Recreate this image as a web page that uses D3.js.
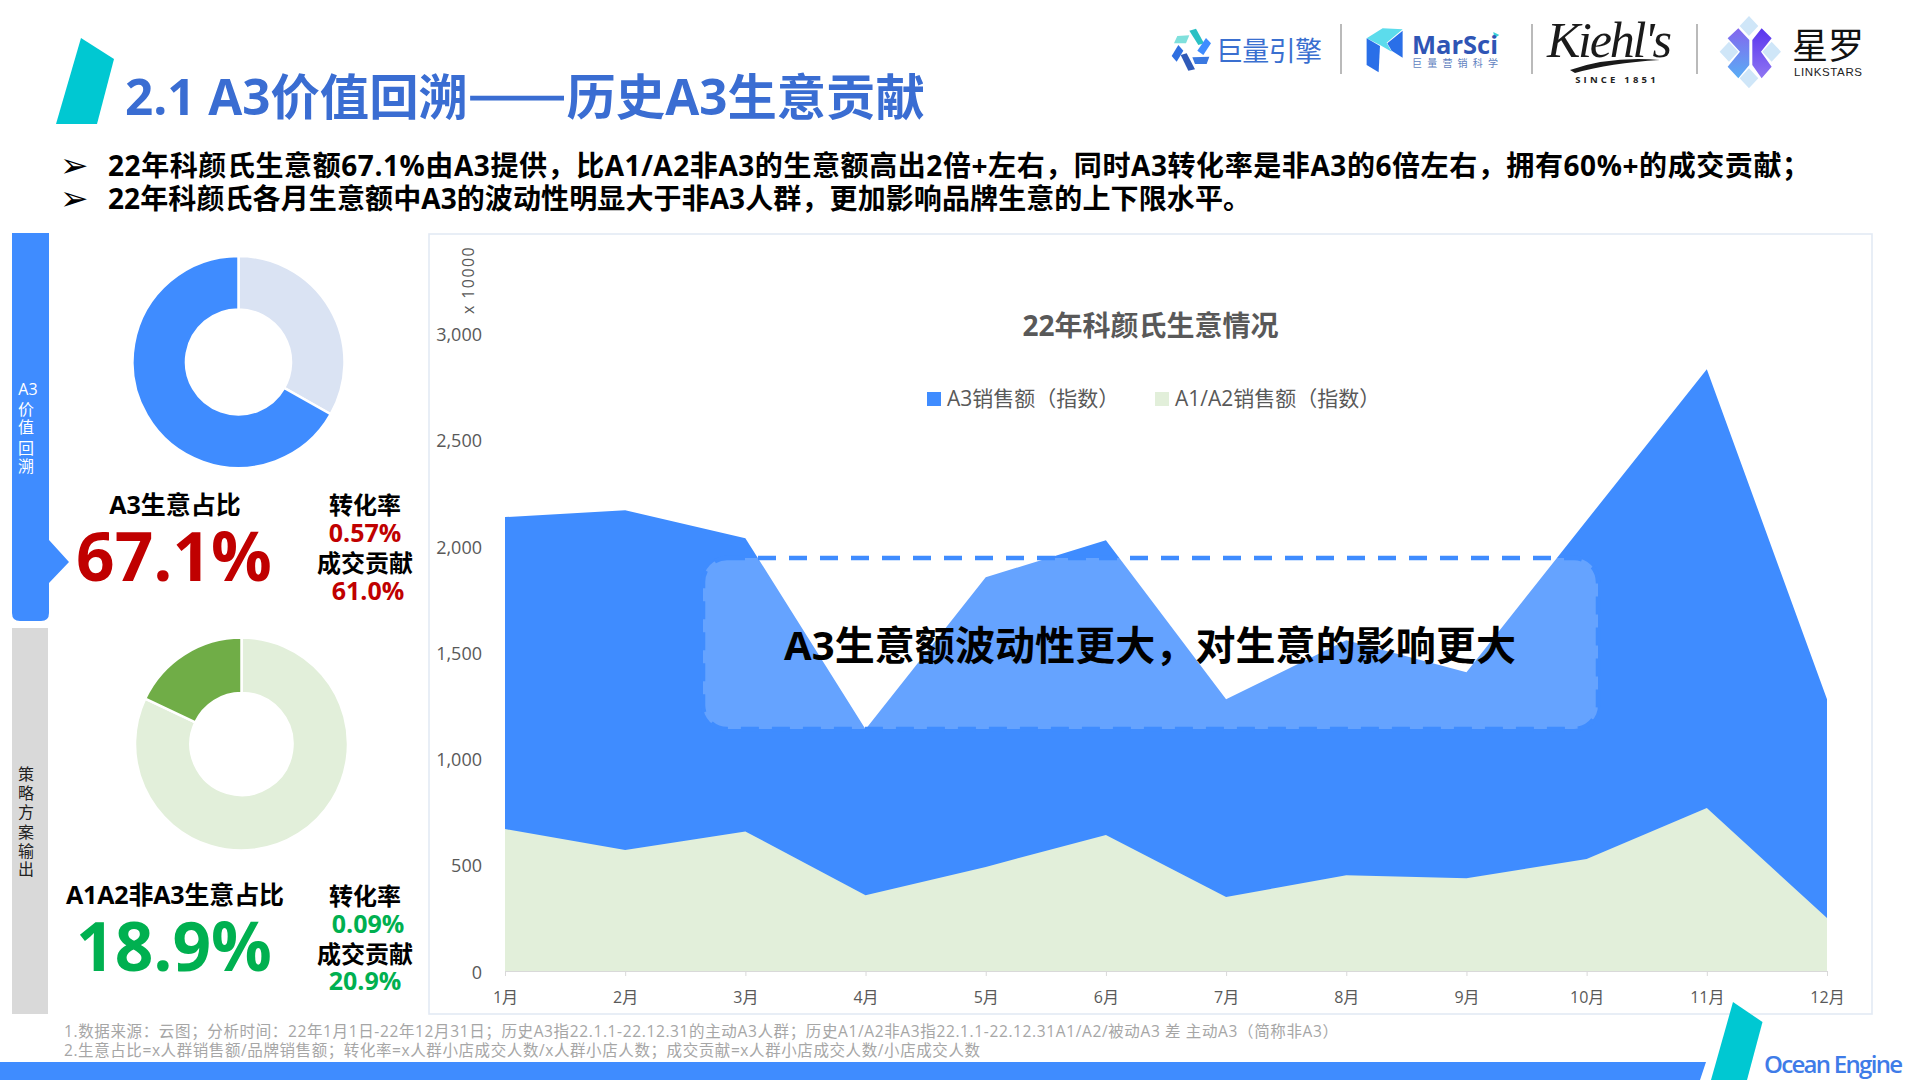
<!DOCTYPE html>
<html lang="zh-CN">
<head>
<meta charset="utf-8">
<title>2.1 A3价值回溯</title>
<script src="https://cdn.jsdelivr.net/npm/d3@7/dist/d3.min.js"></script>
<style>
html,body{margin:0;padding:0;background:#fff;overflow:hidden}
svg{display:block}
text{font-family:"Open Sans","Noto Sans CJK SC",sans-serif}
</style>
</head>
<body>
<svg id="c" width="1920" height="1080" viewBox="0 0 1920 1080"></svg>
<script>
const months = ["1月","2月","3月","4月","5月","6月","7月","8月","9月","10月","11月","12月"];
const a3Sales = [2136,2168,2037,1138,1853,2027,1279,1557,1406,2120,2832,1279];
const a12Sales = [668,570,657,357,490,640,348,451,437,527,767,249];
const yTicks = [0,500,1000,1500,2000,2500,3000];
const donutA3 = [33.2,66.8];
const donutA12 = [82,18];
const bullets = [
  "22年科颜氏生意额67.1%由A3提供，比A1/A2非A3的生意额高出2倍+左右，同时A3转化率是非A3的6倍左右，拥有60%+的成交贡献；",
  "22年科颜氏各月生意额中A3的波动性明显大于非A3人群，更加影响品牌生意的上下限水平。"
];
const footnotes = [
  "1.数据来源：云图；分析时间：22年1月1日-22年12月31日；历史A3指22.1.1-22.12.31的主动A3人群；历史A1/A2非A3指22.1.1-22.12.31A1/A2/被动A3 差 主动A3（简称非A3）",
  "2.生意占比=x人群销售额/品牌销售额；转化率=x人群小店成交人数/x人群小店人数；成交贡献=x人群小店成交人数/小店成交人数"
];
const BLUE="#3f8cff", TEAL="#00c8d2", GREY="#595959";

const svg=d3.select("#c");
function T(s,x,y,size,fill,opt={}){
  const t=svg.append("text").text(s).attr("x",x).attr("y",y)
    .attr("font-size",size).attr("fill",fill)
    .attr("font-weight",opt.w||400).attr("text-anchor",opt.a||"start")
    .attr("dominant-baseline","central");
  if(opt.ff) t.style("font-family",opt.ff);
  if(opt.ls) t.attr("letter-spacing",opt.ls);
  if(opt.len) t.attr("textLength",opt.len).attr("lengthAdjust","spacing");
  if(opt.st) t.attr("font-style",opt.st);
  if(opt.fit) t.attr("font-size",size*opt.fit/t.node().getComputedTextLength());
  return t;
}
function P(pts,fill,g){ return (g||svg).append("polygon").attr("points",pts.map(p=>p.join(",")).join(" ")).attr("fill",fill); }

// header
P([[81,38],[114,59],[97,124],[56,124]],TEAL);
const titleEl=T("",125,95,49,"#3a6dd2",{w:700});
titleEl.append("tspan").text("2.1 A3价值回溯");
titleEl.append("tspan").text("——").style("font-family",'"Noto Sans CJK SC"').attr("stroke","#3a6dd2").attr("stroke-width",2.5);
titleEl.append("tspan").text("历史A3生意贡献");
titleEl.attr("font-size",49*800/titleEl.node().getComputedTextLength());
bullets.forEach((b,i)=>{
  T("➢",60,165+i*33,34,"#000",{ff:"DejaVu Sans"});
  T(b,108,165+i*33,28,"#000",{w:700,len:i===0?1702:1143});
});

// logos: 巨量引擎
const l1=svg.append("g").attr("transform","translate(1160,10) scale(.3333)");
P([[52,78],[88,76],[78,100],[42,100]],"#7fe0dc",l1);
P([[88,62],[108,56],[132,100],[115,105]],"#2bc0c4",l1);
P([[138,84],[153,100],[130,135],[112,122]],"#3f8cff",l1);
P([[97,142],[148,140],[140,162],[105,162]],"#3a78e0",l1);
P([[62,135],[80,130],[105,178],[85,182]],"#2f5ab8",l1);
P([[55,105],[70,122],[50,155],[35,138]],"#2f6fe0",l1);
T("巨量引擎",1216,50,27,"#3a6fd0",{len:106});
[1341,1532,1697].forEach(x=>svg.append("line").attr("x1",x).attr("x2",x).attr("y1",24).attr("y2",74).attr("stroke","#8c8c8c").attr("stroke-width",1.2));
// MarSci
const l2=svg.append("g").attr("transform","translate(1160,10) scale(.3333)");
P([[620,85],[668,55],[728,58],[680,98],[695,125],[660,105]],"#5cdcec",l2);
P([[620,85],[660,108],[656,187],[620,165]],"#2a6fe8",l2);
P([[682,100],[728,62],[728,143],[695,122]],"#2a6fe8",l2);
P([[1000,66],[1018,75],[1003,85]],"#3cd0d8",l2);
T("MarSci",1412,44,28,"#2f55b5",{w:700,fit:86});
T("巨量营销科学",1412,63,10,"#5f7fc0",{len:86});
// Kiehl's
T("Kiehl's",1547,40,50,"#1a1a1a",{ff:"Liberation Serif",st:"italic",len:125});
svg.append("path").attr("d","M1570 70 Q1610 56 1660 60 Q1610 63 1575 73 Z").attr("fill","#1a1a1a");
T("SINCE 1851",1617,79,9.5,"#222",{w:700,a:"middle",ls:3.2});
// 星罗
const l4=svg.append("g").attr("transform","translate(1530,10) scale(.3333)");
[[657,48],[597,125],[725,125],[657,205]].forEach(([x,y])=>P([[x,y-30],[x+28,y],[x,y+30],[x-28,y]],"#cfe6f8",l4));
const defs=svg.append("defs");
function grad(id,a,b){const g=defs.append("linearGradient").attr("id",id).attr("x1",0).attr("y1",0).attr("x2",0).attr("y2",1);
  g.append("stop").attr("offset",0).attr("stop-color",a);g.append("stop").attr("offset",1).attr("stop-color",b);}
grad("gl","#8466ee","#59aef5");grad("gr","#5a35ee","#8f76f2");
P([[593,85],[625,55],[658,90],[658,165],[625,205],[593,170],[630,125]],"url(#gl)",l4);
P([[667,90],[695,55],[725,85],[693,125],[725,170],[695,205],[667,165]],"url(#gr)",l4);
T("星罗",1792,45,36,"#111",{len:72});
T("LINKSTARS",1794,72,11.5,"#222",{ff:"Liberation Sans",len:68});

// left rails
svg.append("path").attr("d","M12 233H49V540L69 562L49 583V613Q49 621 41 621H20Q12 621 12 613Z").attr("fill",BLUE);
svg.append("rect").attr("x",12).attr("y",628).attr("width",36).attr("height",386).attr("fill","#d9d9d9");
[["A3",28,389],["价",26,409],["值",26,427],["回",26,448],["溯",26,466]].forEach(d=>T(d[0],d[1],d[2],16,"#fff",{a:"middle"}));
[["策",774],["略",793],["方",812],["案",832],["输",851],["出",869]].forEach(d=>T(d[0],26,d[1],16,"#222",{a:"middle"}));

// donuts
function donut(vals,cols,cx,cy,r0,r1){
  const g=svg.append("g").attr("transform",`translate(${cx},${cy})`);
  const arcs=d3.pie().sort(null)(vals);
  const arc=d3.arc().innerRadius(r0).outerRadius(r1);
  g.selectAll("path").data(arcs).join("path").attr("d",arc).attr("fill",(d,i)=>cols[i]).attr("stroke","#fff").attr("stroke-width",2.5);
}
donut(donutA3,["#dae3f3",BLUE],238.5,362,52.5,106);
donut(donutA12,["#e2efda","#70ad47"],241.5,744,51,106.5);

const RED="#c00000", GRN="#00b050";
T("A3生意占比",175,504,25,"#000",{w:700,a:"middle"});
T("67.1%",174,555,67.5,RED,{w:700,a:"middle"});
T("转化率",365,504,24,"#000",{w:700,a:"middle"});
T("0.57%",365,532,25,RED,{w:700,a:"middle"});
T("成交贡献",365,562,24,"#000",{w:700,a:"middle"});
T("61.0%",368,590,25,RED,{w:700,a:"middle"});
T("A1A2非A3生意占比",175,894,25,"#000",{w:700,a:"middle",len:218});
T("18.9%",174,945,67.5,GRN,{w:700,a:"middle"});
T("转化率",365,895,24,"#000",{w:700,a:"middle"});
T("0.09%",368,923,25,GRN,{w:700,a:"middle"});
T("成交贡献",365,953,24,"#000",{w:700,a:"middle"});
T("20.9%",365,980,25,GRN,{w:700,a:"middle"});

// chart frame
svg.append("rect").attr("x",429).attr("y",234).attr("width",1443).attr("height",780).attr("fill","#fff").attr("stroke","#e3eaf4").attr("stroke-width",1.6);

const x=d3.scalePoint().domain(months).range([505,1827]);
const y=d3.scaleLinear().domain([0,3000]).range([971,333.5]);
const area=vals=>d3.area().x((d,i)=>x(months[i])).y0(y(0)).y1(d=>y(d))(vals);
svg.append("path").attr("d",area(a3Sales)).attr("fill",BLUE);
svg.append("path").attr("d",area(a12Sales)).attr("fill","#e2efda");

const xa=svg.append("g").attr("transform",`translate(0,${y(0)})`).call(d3.axisBottom(x).tickSize(5).tickPadding(16).tickSizeOuter(0));
xa.selectAll("text").attr("font-size",16).attr("fill",GREY).style("font-family",'"Open Sans","Noto Sans CJK SC",sans-serif');
xa.selectAll("line").attr("stroke","#d9d9d9");xa.select(".domain").attr("stroke","#d9d9d9");
const ya=svg.append("g").attr("transform","translate(490,0)").call(d3.axisLeft(y).tickValues(yTicks).tickFormat(d3.format(",")).tickSize(0).tickPadding(8));
ya.select(".domain").remove();
ya.selectAll("text").attr("font-size",18).attr("dy","0.4em").attr("fill",GREY).style("font-family",'"Open Sans","Noto Sans CJK SC",sans-serif');

svg.append("text").text("x 10000").attr("transform","translate(468,280) rotate(-90)").attr("text-anchor","middle").attr("dominant-baseline","central").attr("font-size",16).attr("letter-spacing",1.4).attr("fill",GREY);

T("22年科颜氏生意情况",1150.5,325,28,GREY,{w:700,a:"middle"});
svg.append("rect").attr("x",927).attr("y",392).attr("width",14).attr("height",14).attr("fill",BLUE);
T("A3销售额（指数）",947,398,21,GREY);
svg.append("rect").attr("x",1155).attr("y",392).attr("width",14).attr("height",14).attr("fill","#e2efda");
T("A1/A2销售额（指数）",1175,398,21,GREY);

// annotation box
svg.append("rect").attr("x",703).attr("y",558).attr("width",895).attr("height",171).attr("rx",24)
  .attr("fill","#fff").attr("fill-opacity",.2).attr("stroke",BLUE).attr("stroke-width",4.5).attr("stroke-dasharray","18 13");
T("A3生意额波动性更大，对生意的影响更大",1150,644,40,"#000",{w:700,a:"middle",len:732});

// footer
footnotes.forEach((f,i)=>T(f,64,1031+i*19,15.5,"#a6a6a6",{len:i===0?1274:916}));
P([[0,1062],[1706,1062],[1700,1080],[0,1080]],BLUE);
P([[1733,1002],[1762.5,1022],[1747,1080],[1711,1080]],TEAL);
T("Ocean Engine",1764,1063,24,"#3f7ce8",{w:600,len:139});
</script>
</body>
</html>
